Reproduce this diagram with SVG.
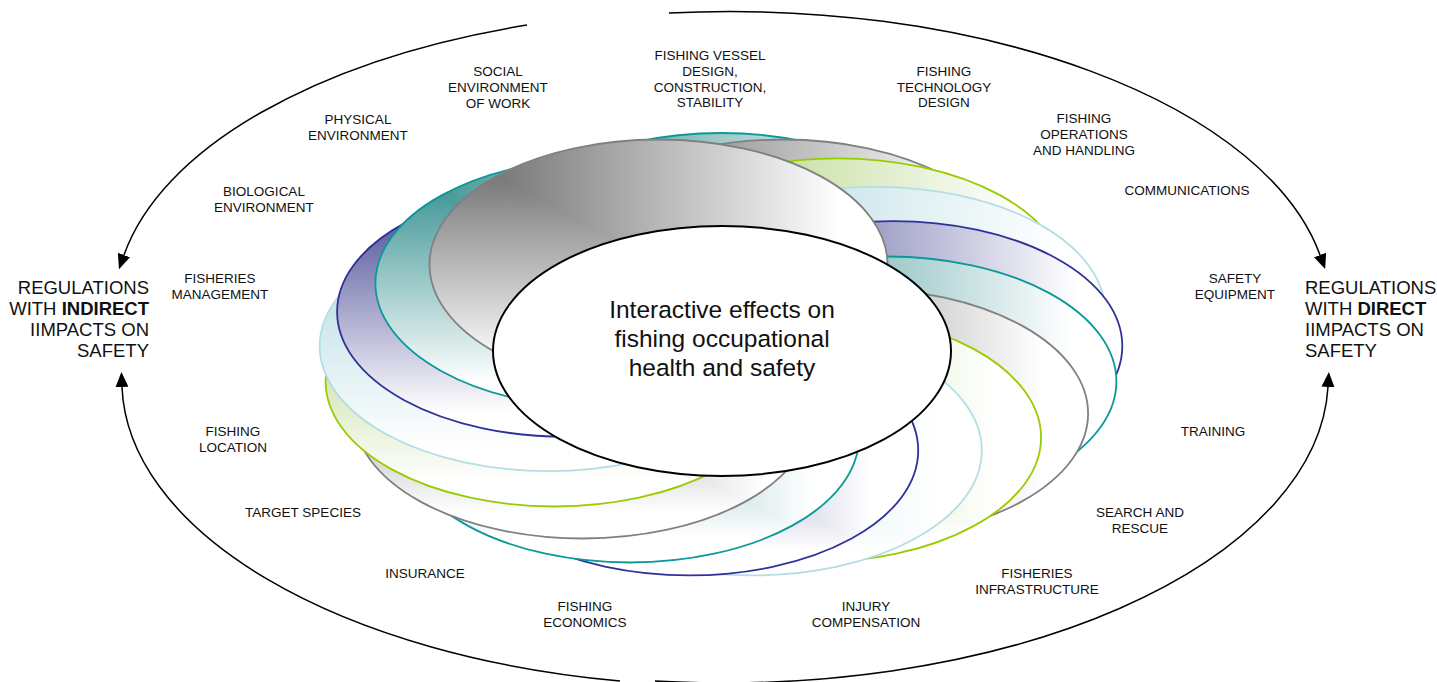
<svg xmlns="http://www.w3.org/2000/svg" width="1437" height="682" viewBox="0 0 1437 682">
  <style>
    text { font-family: "Liberation Sans", Arial, Helvetica, sans-serif; fill: #111; }
    .lbl { font-size: 13.5px; text-anchor: middle; }
    .reg { font-size: 18.5px; }
    .core { font-size: 24.5px; text-anchor: middle; }
    .edge { fill: none; stroke-width: 1.8; }
    .gray .fv { fill: url(#gray-v); }   .gray .fh { fill: url(#gray-h); }   .gray .edge { stroke: #808080; }
    .teal .fv { fill: url(#teal-v); }   .teal .fh { fill: url(#teal-h); }   .teal .edge { stroke: #0a9898; }
    .navy .fv { fill: url(#navy-v); }   .navy .fh { fill: url(#navy-h); }   .navy .edge { stroke: #30309a; }
    .sky .fv { fill: url(#sky-v); }     .sky .fh { fill: url(#sky-h); }     .sky .edge { stroke: #b4dde5; }
    .lime .fv { fill: url(#lime-v); }   .lime .fh { fill: url(#lime-h); }   .lime .edge { stroke: #99cc00; }
    .fh { clip-path: url(#upper-right); }
    .arc { fill: none; stroke: #000; stroke-width: 1.5; marker-end: url(#arrow); }
  </style>
  <defs>
    <!-- corner shading: horizontal ramp above the bbox diagonal, vertical ramp below it -->
    <clipPath id="upper-right" clipPathUnits="objectBoundingBox"><path d="M0,0 H1 V1 Z"/></clipPath>
    <linearGradient id="gray-h" x1="0" y1="0" x2="1" y2="0"><stop offset="0" stop-color="#5e5e5e"/><stop offset="0.9" stop-color="#fff"/></linearGradient>
    <linearGradient id="gray-v" x1="0" y1="0" x2="0" y2="1"><stop offset="0" stop-color="#5e5e5e"/><stop offset="0.9" stop-color="#fff"/></linearGradient>
    <linearGradient id="teal-h" x1="0" y1="0" x2="1" y2="0"><stop offset="0" stop-color="#248686"/><stop offset="0.9" stop-color="#fff"/></linearGradient>
    <linearGradient id="teal-v" x1="0" y1="0" x2="0" y2="1"><stop offset="0" stop-color="#248686"/><stop offset="0.9" stop-color="#fff"/></linearGradient>
    <linearGradient id="navy-h" x1="0" y1="0" x2="1" y2="0"><stop offset="0" stop-color="#3d3d8e"/><stop offset="0.9" stop-color="#fff"/></linearGradient>
    <linearGradient id="navy-v" x1="0" y1="0" x2="0" y2="1"><stop offset="0" stop-color="#3d3d8e"/><stop offset="0.9" stop-color="#fff"/></linearGradient>
    <linearGradient id="sky-h" x1="0" y1="0" x2="1" y2="0"><stop offset="0" stop-color="#a7d4dd"/><stop offset="0.9" stop-color="#fff"/></linearGradient>
    <linearGradient id="sky-v" x1="0" y1="0" x2="0" y2="1"><stop offset="0" stop-color="#a7d4dd"/><stop offset="0.9" stop-color="#fff"/></linearGradient>
    <linearGradient id="lime-h" x1="0" y1="0" x2="1" y2="0"><stop offset="0" stop-color="#a4ca66"/><stop offset="0.9" stop-color="#fff"/></linearGradient>
    <linearGradient id="lime-v" x1="0" y1="0" x2="0" y2="1"><stop offset="0" stop-color="#a4ca66"/><stop offset="0.9" stop-color="#fff"/></linearGradient>
    <marker id="arrow" markerUnits="userSpaceOnUse" markerWidth="15" markerHeight="13" viewBox="0 0 15 13" refX="0" refY="6.5" orient="auto">
      <path d="M0,0 L15,6.5 L0,13 Z" fill="#000"/>
    </marker>
  </defs>

  <!-- regulation arcs -->
  <g id="connectors">
    <path class="arc" d="M527,25 A600,296 0 0 0 124,255"/>
    <path class="arc" d="M669,13 A600,296 0 0 1 1320,255"/>
    <path class="arc" d="M620,681 A605,305 0 0 1 122,387"/>
    <path class="arc" d="M655,681 A605,305 0 0 0 1328,387"/>
  </g>

  <!-- seventeen overlapping ellipses on an orbit, stacked clockwise -->
  <g id="ring">
    <g id="ring-01" class="teal"><ellipse class="fv" cx="721" cy="258" rx="229" ry="125"/><ellipse class="fh" cx="721" cy="258" rx="229" ry="125"/><ellipse class="edge" cx="721" cy="258" rx="229" ry="125"/></g>
    <g id="ring-02" class="gray"><ellipse class="fv" cx="783.5" cy="264.5" rx="229" ry="125"/><ellipse class="fh" cx="783.5" cy="264.5" rx="229" ry="125"/><ellipse class="edge" cx="783.5" cy="264.5" rx="229" ry="125"/></g>
    <g id="ring-03" class="lime"><ellipse class="fv" cx="837.6" cy="283.3" rx="229" ry="125"/><ellipse class="fh" cx="837.6" cy="283.3" rx="229" ry="125"/><ellipse class="edge" cx="837.6" cy="283.3" rx="229" ry="125"/></g>
    <g id="ring-04" class="sky"><ellipse class="fv" cx="875.9" cy="311.8" rx="229" ry="125"/><ellipse class="fh" cx="875.9" cy="311.8" rx="229" ry="125"/><ellipse class="edge" cx="875.9" cy="311.8" rx="229" ry="125"/></g>
    <g id="ring-05" class="navy"><ellipse class="fv" cx="893.3" cy="346.1" rx="229" ry="125"/><ellipse class="fh" cx="893.3" cy="346.1" rx="229" ry="125"/><ellipse class="edge" cx="893.3" cy="346.1" rx="229" ry="125"/></g>
    <g id="ring-06" class="teal"><ellipse class="fv" cx="887.4" cy="381.5" rx="229" ry="125"/><ellipse class="fh" cx="887.4" cy="381.5" rx="229" ry="125"/><ellipse class="edge" cx="887.4" cy="381.5" rx="229" ry="125"/></g>
    <g id="ring-07" class="gray"><ellipse class="fv" cx="859.1" cy="413.5" rx="229" ry="125"/><ellipse class="fh" cx="859.1" cy="413.5" rx="229" ry="125"/><ellipse class="edge" cx="859.1" cy="413.5" rx="229" ry="125"/></g>
    <g id="ring-08" class="lime"><ellipse class="fv" cx="812.1" cy="437.5" rx="229" ry="125"/><ellipse class="fh" cx="812.1" cy="437.5" rx="229" ry="125"/><ellipse class="edge" cx="812.1" cy="437.5" rx="229" ry="125"/></g>
    <g id="ring-09" class="sky"><ellipse class="fv" cx="752.8" cy="450.4" rx="229" ry="125"/><ellipse class="fh" cx="752.8" cy="450.4" rx="229" ry="125"/><ellipse class="edge" cx="752.8" cy="450.4" rx="229" ry="125"/></g>
    <g id="ring-10" class="navy"><ellipse class="fv" cx="689.2" cy="450.4" rx="229" ry="125"/><ellipse class="fh" cx="689.2" cy="450.4" rx="229" ry="125"/><ellipse class="edge" cx="689.2" cy="450.4" rx="229" ry="125"/></g>
    <g id="ring-11" class="teal"><ellipse class="fv" cx="629.9" cy="437.5" rx="229" ry="125"/><ellipse class="fh" cx="629.9" cy="437.5" rx="229" ry="125"/><ellipse class="edge" cx="629.9" cy="437.5" rx="229" ry="125"/></g>
    <g id="ring-12" class="gray"><ellipse class="fv" cx="582.9" cy="413.5" rx="229" ry="125"/><ellipse class="fh" cx="582.9" cy="413.5" rx="229" ry="125"/><ellipse class="edge" cx="582.9" cy="413.5" rx="229" ry="125"/></g>
    <g id="ring-13" class="lime"><ellipse class="fv" cx="554.6" cy="381.5" rx="229" ry="125"/><ellipse class="fh" cx="554.6" cy="381.5" rx="229" ry="125"/><ellipse class="edge" cx="554.6" cy="381.5" rx="229" ry="125"/></g>
    <g id="ring-14" class="sky"><ellipse class="fv" cx="548.7" cy="346.1" rx="229" ry="125"/><ellipse class="fh" cx="548.7" cy="346.1" rx="229" ry="125"/><ellipse class="edge" cx="548.7" cy="346.1" rx="229" ry="125"/></g>
    <g id="ring-15" class="navy"><ellipse class="fv" cx="566.1" cy="311.8" rx="229" ry="125"/><ellipse class="fh" cx="566.1" cy="311.8" rx="229" ry="125"/><ellipse class="edge" cx="566.1" cy="311.8" rx="229" ry="125"/></g>
    <g id="ring-16" class="teal"><ellipse class="fv" cx="604.4" cy="283.3" rx="229" ry="125"/><ellipse class="fh" cx="604.4" cy="283.3" rx="229" ry="125"/><ellipse class="edge" cx="604.4" cy="283.3" rx="229" ry="125"/></g>
    <g id="ring-17" class="gray"><ellipse class="fv" cx="658.5" cy="264.5" rx="229" ry="125"/><ellipse class="fh" cx="658.5" cy="264.5" rx="229" ry="125"/><ellipse class="edge" cx="658.5" cy="264.5" rx="229" ry="125"/></g>
  </g>

  <!-- central node -->
  <g id="core">
    <ellipse cx="722" cy="351" rx="229" ry="125" fill="#fff" stroke="#000" stroke-width="2"/>
    <text class="core"><tspan x="722" y="318">Interactive effects on</tspan><tspan x="722" y="347">fishing occupational</tspan><tspan x="722" y="376">health and safety</tspan></text>
  </g>

  <!-- side headings -->
  <g id="indirect">
    <text class="reg" text-anchor="end"><tspan x="149" y="294">REGULATIONS</tspan><tspan x="149" y="315">WITH <tspan font-weight="bold">INDIRECT</tspan></tspan><tspan x="149" y="336">IIMPACTS ON</tspan><tspan x="149" y="357">SAFETY</tspan></text>
  </g>
  <g id="direct">
    <text class="reg"><tspan x="1305" y="294">REGULATIONS</tspan><tspan x="1305" y="315">WITH <tspan font-weight="bold">DIRECT</tspan></tspan><tspan x="1305" y="336">IIMPACTS ON</tspan><tspan x="1305" y="357">SAFETY</tspan></text>
  </g>

  <!-- factor labels -->
  <g id="social"><text class="lbl"><tspan x="498" y="76">SOCIAL</tspan><tspan x="498" y="92">ENVIRONMENT</tspan><tspan x="498" y="108">OF WORK</tspan></text></g>
  <g id="vessel"><text class="lbl"><tspan x="710" y="60">FISHING VESSEL</tspan><tspan x="710" y="76">DESIGN,</tspan><tspan x="710" y="92">CONSTRUCTION,</tspan><tspan x="710" y="107">STABILITY</tspan></text></g>
  <g id="technology"><text class="lbl"><tspan x="944" y="76">FISHING</tspan><tspan x="944" y="92">TECHNOLOGY</tspan><tspan x="944" y="107">DESIGN</tspan></text></g>
  <g id="operations"><text class="lbl"><tspan x="1084" y="123">FISHING</tspan><tspan x="1084" y="139">OPERATIONS</tspan><tspan x="1084" y="155">AND HANDLING</tspan></text></g>
  <g id="communications"><text class="lbl"><tspan x="1187" y="195">COMMUNICATIONS</tspan></text></g>
  <g id="equipment"><text class="lbl"><tspan x="1235" y="283">SAFETY</tspan><tspan x="1235" y="299">EQUIPMENT</tspan></text></g>
  <g id="training"><text class="lbl"><tspan x="1213" y="436">TRAINING</tspan></text></g>
  <g id="rescue"><text class="lbl"><tspan x="1140" y="517">SEARCH AND</tspan><tspan x="1140" y="533">RESCUE</tspan></text></g>
  <g id="infrastructure"><text class="lbl"><tspan x="1037" y="578">FISHERIES</tspan><tspan x="1037" y="594">INFRASTRUCTURE</tspan></text></g>
  <g id="compensation"><text class="lbl"><tspan x="866" y="611">INJURY</tspan><tspan x="866" y="627">COMPENSATION</tspan></text></g>
  <g id="economics"><text class="lbl"><tspan x="585" y="611">FISHING</tspan><tspan x="585" y="627">ECONOMICS</tspan></text></g>
  <g id="insurance"><text class="lbl"><tspan x="425" y="578">INSURANCE</tspan></text></g>
  <g id="species"><text class="lbl"><tspan x="303" y="517">TARGET SPECIES</tspan></text></g>
  <g id="location"><text class="lbl"><tspan x="233" y="436">FISHING</tspan><tspan x="233" y="452">LOCATION</tspan></text></g>
  <g id="management"><text class="lbl"><tspan x="220" y="283">FISHERIES</tspan><tspan x="220" y="299">MANAGEMENT</tspan></text></g>
  <g id="biological"><text class="lbl"><tspan x="264" y="196">BIOLOGICAL</tspan><tspan x="264" y="212">ENVIRONMENT</tspan></text></g>
  <g id="physical"><text class="lbl"><tspan x="358" y="124">PHYSICAL</tspan><tspan x="358" y="140">ENVIRONMENT</tspan></text></g>
</svg>
